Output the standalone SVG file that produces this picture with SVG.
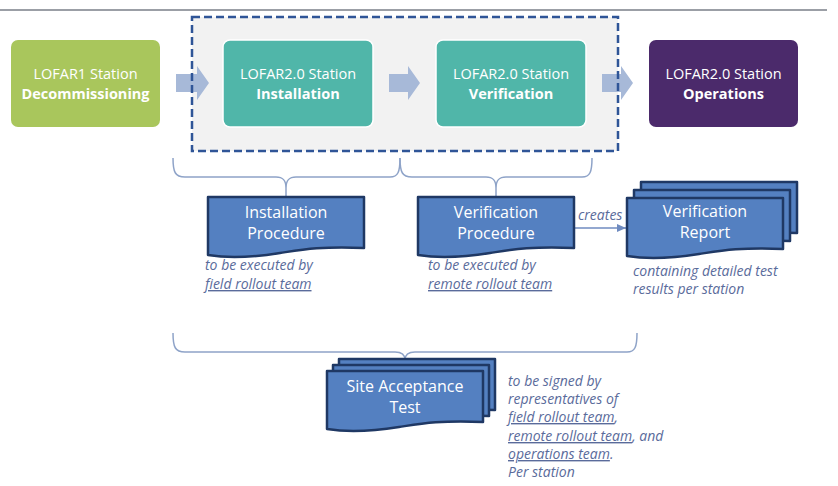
<svg xmlns="http://www.w3.org/2000/svg" xmlns:xlink="http://www.w3.org/1999/xlink" width="838" height="486" viewBox="0 0 838 486">
<defs>
<style>
.stage{font-family:"Open Sans","Liberation Sans",sans-serif;font-size:14.5px;fill:#ffffff;text-anchor:middle}
.b{font-weight:bold}
.doct{font-family:"Open Sans","Liberation Sans",sans-serif;font-size:16px;fill:#ffffff;text-anchor:middle}
.note{font-family:"Open Sans","Liberation Sans",sans-serif;font-size:14px;font-style:italic;fill:#5a6b9b}
.u{text-decoration:underline}
.doc{fill:#5480c1;stroke:#1f3864;stroke-width:2.5;stroke-linejoin:round}
.brace{fill:none;stroke:#8ea3c8;stroke-width:1.5}
.blk{fill:#a7b9d8}
</style>
<path id="docshape" d="M0,0 H156 V51 C112,49 92,53 72,56 C47,60 24,62 0,58 Z"/>
<marker id="ah" markerWidth="10" markerHeight="10" refX="9" refY="5" orient="auto" markerUnits="userSpaceOnUse">
<path d="M0,1 L9,5 L0,9 Z" fill="#6f8bc0"/>
</marker>
</defs>
<rect width="838" height="486" fill="#ffffff"/>
<line x1="0" y1="10" x2="827" y2="10" stroke="#7a7f88" stroke-width="1.5"/>
<rect id="group-area" x="192" y="17" width="426" height="134" fill="#f2f2f2"/>

<g id="connectors">
<path class="blk" d="M176,74 H197 V66 L209,83 L197,100 V92 H176 Z"/>
<path class="blk" d="M389,74 H408 V66 L420,83 L408,100 V92 H389 Z"/>
<path class="blk" d="M602,74 H621 V66 L633,83 L621,100 V92 H602 Z"/>
<path class="brace" d="M173,158 C173,172 175,177 185,177 H276 C283,177 286,180 286,188 V197 M286,188 C286,180 289,177 296,177 H390 C398,177 400,172 400,158"/>
<path class="brace" d="M400,158 C400,172 402,177 412,177 H486 C493,177 496,180 496,188 V197 M496,188 C496,180 499,177 506,177 H582 C590,177 592,172 592,158"/>
<path class="brace" d="M173,333 C173,347 175,352 185,352 H395 C402,352 405,355 405,360 M405,360 C405,355 408,352 415,352 H627 C635,352 637,347 637,333"/>
<line x1="575" y1="228" x2="626" y2="228" stroke="#6f8bc0" stroke-width="1.5" marker-end="url(#ah)"/>
<text class="note" x="578" y="220">creates</text>
</g>

<rect x="192" y="17" width="426" height="134" fill="none" stroke="#2f5597" stroke-width="2.5" stroke-dasharray="8,4"/>

<g id="decommissioning">
<rect x="11" y="40" width="149" height="87" rx="7" fill="#a9c65c"/>
<text class="stage" x="85.5" y="79">LOFAR1 Station</text>
<text class="stage b" x="85.5" y="99">Decommissioning</text>
</g>
<g id="installation">
<rect x="223" y="40" width="150" height="87" rx="7" fill="#50b6a9" stroke="#ffffff" stroke-width="1.5"/>
<text class="stage" x="298" y="79">LOFAR2.0 Station</text>
<text class="stage b" x="298" y="99">Installation</text>
</g>
<g id="verification">
<rect x="436" y="40" width="150" height="87" rx="7" fill="#50b6a9" stroke="#ffffff" stroke-width="1.5"/>
<text class="stage" x="511" y="79">LOFAR2.0 Station</text>
<text class="stage b" x="511" y="99">Verification</text>
</g>
<g id="operations">
<rect x="649" y="40" width="149" height="87" rx="7" fill="#4b2a6b"/>
<text class="stage" x="723.5" y="79">LOFAR2.0 Station</text>
<text class="stage b" x="723.5" y="99">Operations</text>
</g>

<g id="installation-procedure">
<use xlink:href="#docshape" class="doc" transform="translate(208,197)"/>
<text class="doct" x="286" y="218">Installation</text>
<text class="doct" x="286" y="239">Procedure</text>
<text class="note" x="205" y="270">to be executed by</text>
<text class="note u" x="205" y="289">field rollout team</text>
</g>

<g id="verification-procedure">
<use xlink:href="#docshape" class="doc" transform="translate(418,197)"/>
<text class="doct" x="496" y="218">Verification</text>
<text class="doct" x="496" y="239">Procedure</text>
<text class="note" x="428" y="270">to be executed by</text>
<text class="note u" x="428" y="289">remote rollout team</text>
</g>

<g id="verification-report">
<use xlink:href="#docshape" class="doc" transform="translate(641,182)"/>
<use xlink:href="#docshape" class="doc" transform="translate(634,190)"/>
<use xlink:href="#docshape" class="doc" transform="translate(627,198)"/>
<text class="doct" x="705" y="217">Verification</text>
<text class="doct" x="705" y="238">Report</text>
<text class="note" x="633" y="276">containing detailed test</text>
<text class="note" x="633" y="294">results per station</text>
</g>

<g id="site-acceptance-test">
<use xlink:href="#docshape" class="doc" transform="translate(339,359)"/>
<use xlink:href="#docshape" class="doc" transform="translate(333,365)"/>
<use xlink:href="#docshape" class="doc" transform="translate(327,371)"/>
<text class="doct" x="405" y="392">Site Acceptance</text>
<text class="doct" x="405" y="413">Test</text>
<text class="note" x="508" y="386">to be signed by</text>
<text class="note" x="508" y="404">representatives of</text>
<text class="note" x="508" y="422"><tspan class="u">field rollout team</tspan>,</text>
<text class="note" x="508" y="441"><tspan class="u">remote rollout team</tspan>, and</text>
<text class="note" x="508" y="459"><tspan class="u">operations team</tspan>.</text>
<text class="note" x="508" y="477">Per station</text>
</g>
</svg>
